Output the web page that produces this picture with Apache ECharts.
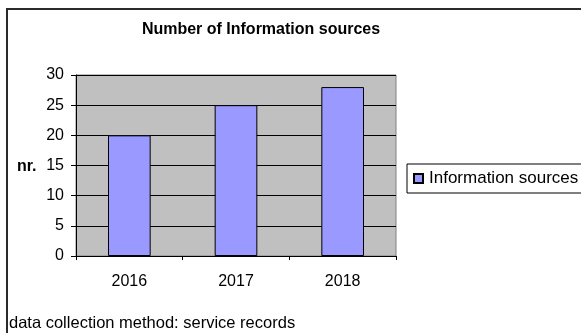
<!DOCTYPE html>
<html>
<head>
<meta charset="utf-8">
<script src="https://cdn.jsdelivr.net/npm/echarts@6/dist/echarts.min.js"></script>
<style>
  html, body { margin: 0; padding: 0; background: #fff; }
  #chart { width: 581px; height: 333px; }
</style>
</head>
<body>
<div id="chart"></div>
<script>
// Yearly count of information sources
const years = ['2016', '2017', '2018'];
const sourceCounts = [20, 25, 28];
const seriesName = 'Information sources';
const chartTitle = 'Number of Information sources';
const yAxisTitle = 'nr.';
const footnote = 'data collection method: service records';

const FONT = 'Arial, "Liberation Sans", sans-serif';

const chart = echarts.init(document.getElementById('chart'), null, { renderer: 'canvas' });

chart.setOption({
  animation: false,
  backgroundColor: '#ffffff',
  textStyle: { fontFamily: FONT, color: '#000' },
  grid: {
    left: 76, top: 75, width: 320, height: 181,
    show: true,
    backgroundColor: '#c0c0c0',
    borderColor: '#808080',
    borderWidth: 1
  },
  legend: {
    data: [seriesName],
    left: 407, top: 164,
    padding: [6, 14, 6, 6],
    borderColor: '#000', borderWidth: 1,
    icon: 'rect',
    itemWidth: 9, itemHeight: 9, itemGap: 7,
    textStyle: { fontFamily: FONT, fontSize: 17, color: '#000', padding: [0, 0, 0, 1] }
  },
  xAxis: {
    type: 'category',
    data: years,
    boundaryGap: true,
    axisLine: { lineStyle: { color: '#000', width: 1 } },
    axisTick: { show: true, length: 4, lineStyle: { color: '#000' } },
    axisLabel: { fontFamily: FONT, fontSize: 16, color: '#000', margin: 18 },
    splitLine: { show: false }
  },
  yAxis: {
    type: 'value',
    min: 0, max: 30, interval: 5,
    axisLine: { show: true, lineStyle: { color: '#000', width: 1 } },
    axisTick: { show: true, length: 5, lineStyle: { color: '#000' } },
    axisLabel: { fontFamily: FONT, fontSize: 16, color: '#000', margin: 12 },
    splitLine: { show: true, lineStyle: { color: '#000', width: 1 } }
  },
  series: [{
    name: seriesName,
    type: 'bar',
    data: sourceCounts,
    barWidth: '40%',
    itemStyle: { color: '#9999ff', borderColor: '#000', borderWidth: 1 }
  }],
  graphic: [
    {
      type: 'polyline',
      shape: { points: [[7, 333], [7, 9], [581, 9]] },
      style: { stroke: '#2b2b2b', lineWidth: 2, fill: null },
      silent: true
    },
    {
      type: 'text',
      x: 261, y: 30,
      style: {
        text: chartTitle, fontFamily: FONT, fontSize: 16, fontWeight: 'bold',
        fill: '#000', align: 'center', verticalAlign: 'middle'
      }
    },
    {
      type: 'text',
      x: 17, y: 167,
      style: {
        text: yAxisTitle, fontFamily: FONT, fontSize: 16, fontWeight: 'bold',
        fill: '#000', align: 'left', verticalAlign: 'middle'
      }
    },
    {
      type: 'text',
      x: 9, y: 323,
      style: {
        text: footnote, fontFamily: FONT, fontSize: 16.5,
        fill: '#000', align: 'left', verticalAlign: 'middle'
      }
    }
  ]
});
</script>
</body>
</html>
